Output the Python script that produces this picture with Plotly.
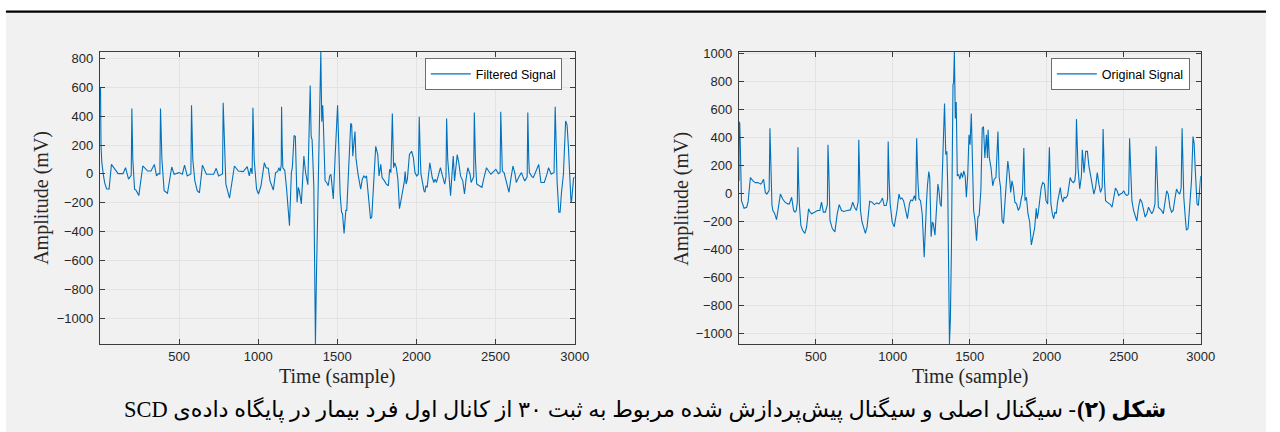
import plotly.graph_objects as go

# ---------------- data ----------------
filtered_t = [1, 4, 7, 12, 21, 30, 42, 58, 73, 95, 115, 146, 162, 181, 198, 202, 208, 219, 229, 246,
              271, 302, 323, 344, 358, 369, 379, 383, 392, 406, 427, 454, 469, 500, 521, 535, 552, 575, 579, 587,
              600, 615, 629, 648, 673, 719, 735, 750, 775, 779, 787, 796, 819, 850, 875, 906, 931, 944, 954, 962,
              967, 975, 990, 1002, 1018, 1039, 1050, 1064, 1075, 1096, 1110, 1123, 1131, 1139, 1146, 1148, 1152, 1156, 1168, 1179,
              1198, 1210, 1216, 1227, 1235, 1246, 1254, 1260, 1273, 1283, 1289, 1293, 1300, 1314, 1329, 1335, 1341, 1352, 1362, 1368,
              1381, 1389, 1396, 1402, 1408, 1412, 1423, 1433, 1443, 1452, 1460, 1468, 1475, 1487, 1493, 1502, 1506, 1512, 1518, 1527,
              1533, 1543, 1554, 1560, 1571, 1585, 1591, 1598, 1606, 1612, 1618, 1631, 1648, 1658, 1668, 1677, 1685, 1698, 1710, 1718,
              1731, 1743, 1756, 1764, 1775, 1783, 1798, 1810, 1823, 1831, 1839, 1848, 1856, 1864, 1873, 1883, 1893, 1902, 1912, 1923,
              1929, 1935, 1943, 1956, 1970, 1981, 1991, 2002, 2012, 2018, 2025, 2029, 2048, 2054, 2060, 2068, 2085, 2100, 2110, 2118,
              2127, 2137, 2152, 2162, 2179, 2187, 2191, 2198, 2206, 2216, 2227, 2233, 2241, 2252, 2258, 2268, 2279, 2293, 2304, 2314,
              2325, 2339, 2346, 2362, 2366, 2373, 2381, 2398, 2414, 2425, 2443, 2456, 2471, 2481, 2502, 2518, 2529, 2533, 2539, 2543,
              2554, 2570, 2585, 2595, 2610, 2623, 2631, 2648, 2664, 2679, 2685, 2700, 2704, 2710, 2714, 2731, 2739, 2756, 2773, 2787,
              2808, 2825, 2835, 2852, 2870, 2877, 2885, 2889, 2900, 2908, 2916, 2929, 2943, 2952, 2960, 2977, 2981, 2993, 3000]
filtered_v = [600, 590, 200, 80, 0, -60, -102, -105, 66, 30, 2, 2, 43, -36, -10, 452, 100, -105, -114, -150,
              55, 20, 20, 66, -14, 2, 0, 452, 100, -116, -134, 48, -2, 9, -2, 61, -14, 0, 475, 100,
              -48, -116, -130, 61, -2, -2, 39, -14, 0, 493, 150, -70, -168, 55, 20, 16, 50, -14, 40, 0,
              457, 100, -105, -139, -82, 77, 43, 39, -48, -111, 9, 16, 43, 20, 60, 464, 200, 43, 25, -93,
              -359, 9, 43, 266, 259, -195, -93, -116, -207, -2, 123, 77, 9, -75, 611, 259, 236, -93, -1178, -730,
              43, 616, 843, 361, 475, 350, -48, -59, -82, -14, -2, -93, -173, 134, 305, 475, 327, 43, -139, -264,
              -275, -411, -252, -252, -2, 350, 339, 123, 225, 293, 111, -2, -105, -36, -14, -25, -14, -173, -309, -298,
              -2, 191, 134, -14, 66, -25, -48, -70, -82, 32, 9, 418, 43, 77, 43, -36, -241, -184, -150, -59,
              16, -70, -36, 134, 157, 111, 9, -14, -2, 395, 100, -2, -116, -127, -82, -93, 77, -25, -59, -36,
              -59, -14, 43, -2, -70, -20, 384, 100, -40, -150, 30, 123, -48, 80, 134, 77, -14, -48, -139, -36,
              43, -2, -59, -20, 425, 100, -70, -82, -93, -36, 43, 20, -2, 9, 32, 2, 10, 430, 100, 20,
              9, -59, -127, -48, 55, 0, -59, -20, 9, -36, -48, -20, 425, 100, 9, -20, -25, 20, 66, -59,
              -59, -2, 43, -2, 10, 464, 150, -48, -264, -264, -139, -2, 366, 339, 200, -195, -184, -32, -20]

original_t = [1, 2, 6, 10, 17, 34, 51, 60, 75, 92, 107, 124, 142, 150, 161, 172, 182, 189, 197, 202,
              208, 215, 221, 232, 245, 257, 270, 285, 300, 318, 328, 343, 356, 365, 373, 380, 384, 388, 393, 403,
              414, 429, 440, 453, 463, 474, 489, 511, 526, 537, 549, 562, 575, 579, 586, 592, 607, 624, 639, 652,
              667, 682, 704, 725, 740, 751, 764, 775, 779, 785, 790, 800, 811, 822, 833, 850, 865, 880, 897, 910,
              923, 933, 944, 957, 966, 970, 976, 983, 996, 1009, 1027, 1040, 1049, 1059, 1070, 1083, 1095, 1108, 1117, 1129,
              1140, 1149, 1155, 1163, 1170, 1180, 1191, 1204, 1215, 1219, 1225, 1234, 1240, 1249, 1257, 1263, 1274, 1283, 1293, 1300,
              1308, 1315, 1325, 1336, 1344, 1351, 1357, 1368, 1374, 1381, 1391, 1395, 1400, 1406, 1412, 1419, 1427, 1436, 1444, 1453,
              1461, 1470, 1478, 1487, 1495, 1502, 1510, 1517, 1525, 1534, 1544, 1553, 1561, 1572, 1581, 1589, 1598, 1608, 1615, 1619,
              1627, 1638, 1649, 1659, 1670, 1683, 1691, 1700, 1710, 1719, 1730, 1747, 1755, 1766, 1774, 1783, 1793, 1804, 1815, 1825,
              1836, 1842, 1851, 1859, 1868, 1878, 1889, 1900, 1910, 1921, 1932, 1938, 1944, 1953, 1964, 1974, 1985, 1995, 2006, 2017,
              2027, 2036, 2045, 2053, 2062, 2070, 2079, 2088, 2096, 2105, 2113, 2124, 2135, 2145, 2152, 2161, 2173, 2182, 2188, 2193,
              2199, 2203, 2214, 2225, 2231, 2238, 2242, 2253, 2264, 2274, 2285, 2298, 2306, 2317, 2328, 2339, 2349, 2360, 2366, 2375,
              2382, 2392, 2403, 2414, 2424, 2435, 2446, 2457, 2467, 2478, 2489, 2500, 2510, 2521, 2532, 2538, 2547, 2553, 2564, 2575,
              2585, 2596, 2607, 2618, 2628, 2639, 2650, 2661, 2671, 2682, 2693, 2703, 2710, 2718, 2725, 2736, 2746, 2757, 2768, 2779,
              2789, 2800, 2811, 2821, 2832, 2843, 2854, 2864, 2873, 2879, 2886, 2890, 2901, 2907, 2918, 2929, 2940, 2950, 2957, 2965,
              2976, 2985, 2993, 3000]
original_v = [89, 512, 500, 324, -52, -106, -99, -63, 113, 89, 77, 77, 66, 77, 101, 7, -5, 7, 20, 465,
              100, -80, -122, -141, -188, -99, -5, -40, -63, -75, -75, -28, -122, -134, -122, -60, 329, 100, -75, -228,
              -263, -286, -240, -110, -134, -146, -134, -122, -122, -63, -134, -134, -80, 347, 100, -192, -251, -275, -146, -80,
              -122, -129, -122, -118, -63, -99, -122, -60, 383, 100, -122, -204, -251, -286, -239, -56, -63, -80, -68, -75,
              -56, -33, -87, -87, -40, 371, 100, -75, -204, -239, -122, -5, -40, -33, -52, -122, -181, -75, -47, -52,
              -16, -52, 394, 89, -40, -52, -145, -455, -99, -63, 54, 155, 113, -310, -204, -216, -298, -75, 66, 19,
              -75, -94, 230, 641, 277, 300, 42, -1077, -900, -380, 775, 790, 1009, 535, 652, 124, 136, 101, 148, 113,
              160, 124, -28, 136, 418, 347, 570, 206, -122, -192, -338, -169, -157, 19, 465, 476, 253, 418, 253, 455,
              253, 183, 54, 101, 113, 441, 113, 42, -192, -216, -5, 230, 160, 7, 89, 42, -63, -75, -122, -99,
              -28, -5, 324, -52, -28, -145, -204, -368, -310, -251, -106, -181, -145, -52, 42, 77, 66, -52, -75, 330,
              -75, -145, -181, -134, -145, -63, -5, 42, -28, -63, -28, -33, -16, 66, 113, 89, 77, 89, 150, 530,
              300, 183, 31, 124, 312, 200, 148, 300, 300, 195, 124, 66, -5, 42, 148, 66, 7, 42, 460, 89,
              -52, -63, -75, -80, -99, -28, 38, 19, -16, -5, 0, 19, -5, -16, -5, 394, 42, -52, -122, -157,
              -197, -99, -40, -63, -122, -169, -145, -99, -122, -145, -122, -75, 336, -5, -99, -110, -122, -145, -75, 19,
              -5, -99, -134, -122, -40, 31, 7, -5, 40, 465, 150, -28, -192, -263, -251, -75, 89, 406, 359, 160,
              -75, -87, 19, 124]

x_ticks = [500, 1000, 1500, 2000, 2500, 3000]
left_y_ticks = [-1000, -800, -600, -400, -200, 0, 200, 400, 600, 800]
right_y_ticks = [-1000, -800, -600, -400, -200, 0, 200, 400, 600, 800, 1000]
left_y_range = [-1178, 843]
right_y_range = [-1077, 1009]
x_range = [0, 3000]

x_title = "Time (sample)"
y_title = "Amplitude (mV)"
caption_bold = "شکل (۲)"
caption_rest = "- سیگنال اصلی و سیگنال پیش‌پردازش شده مربوط به ثبت ۳۰ از کانال اول فرد بیمار در پایگاه داده‌ی SCD"

# ---------------- layout helpers (pixel -> paper) ----------------
W, H = 1280, 432
def px(x):
    return x / W
def py(y):
    return 1 - y / H

LINE = "#0072BD"
AX = "#3c3c3c"
GRID = "#e3e3e3"
TICKFONT = dict(family="Liberation Sans, Arial, sans-serif", size=13, color="#262626")
SERIF = "Liberation Serif, Times New Roman, serif"
CAPFONT = "Liberation Serif, DejaVu Sans, serif"
RLE, PDF, RLM = "\u202B", "\u202C", "\u200F"

fig = go.Figure()
fig.add_trace(go.Scatter(x=filtered_t, y=filtered_v, mode="lines", name="Filtered Signal",
                         line=dict(color=LINE, width=1.1), xaxis="x", yaxis="y", legend="legend"))
fig.add_trace(go.Scatter(x=original_t, y=original_v, mode="lines", name="Original Signal",
                         line=dict(color=LINE, width=1.1), xaxis="x2", yaxis="y2", legend="legend2"))

top, bottom = 46.7, 343
def xax(l, r):
    return dict(domain=[px(l), px(r)], range=x_range, tickvals=x_ticks, showgrid=True, gridcolor=GRID,
                zeroline=False, showline=True, linecolor=AX, linewidth=1, mirror="ticks",
                ticks="inside", ticklen=5, tickcolor=AX, tickfont=TICKFONT)
def yax(rng, ticks, anchor):
    return dict(domain=[py(bottom), py(top)], range=rng, tickvals=ticks, showgrid=True, gridcolor=GRID,
                zeroline=False, showline=True, linecolor=AX, linewidth=1, mirror="ticks",
                ticks="inside", ticklen=5, tickcolor=AX, tickfont=TICKFONT, anchor=anchor,
                ticklabelstandoff=3)

legend_common = dict(bgcolor="white", bordercolor="#6e6e6e", borderwidth=1,
                     font=dict(family="Liberation Sans, Arial, sans-serif", size=12.5, color="#000"),
                     xanchor="right", yanchor="top", itemwidth=40, tracegroupgap=0)

join_x = 1087
cap_y = 409
fig.update_layout(
    autosize=True, margin=dict(l=0, r=0, t=0, b=0),
    paper_bgcolor="white", plot_bgcolor="white", showlegend=True,
    xaxis=dict(**xax(101, 581), anchor="y"),
    yaxis=yax(left_y_range, left_y_ticks, "x"),
    xaxis2=dict(**xax(747, 1214), anchor="y2"),
    yaxis2=yax(right_y_range, right_y_ticks, "x2"),
    legend=dict(x=px(568), y=py(53), **legend_common),
    legend2=dict(x=px(1203), y=py(53), **legend_common),
    shapes=[
        dict(type="rect", xref="paper", yref="paper", x0=px(6), x1=1, y0=0, y1=py(7),
             fillcolor="#f1f1f1", line=dict(width=0), layer="below"),
        dict(type="line", xref="paper", yref="paper", x0=px(6), x1=1, y0=py(5.7), y1=py(5.7),
             line=dict(color="black", width=2.2)),
    ],
    annotations=[
        dict(text=y_title, xref="paper", yref="paper", x=px(42), y=py(195), textangle=-90,
             showarrow=False, font=dict(family=SERIF, size=20, color="#262626"), xanchor="center", yanchor="middle"),
        dict(text=x_title, xref="paper", yref="paper", x=px(341), y=py(376),
             showarrow=False, font=dict(family=SERIF, size=20, color="#262626"), xanchor="center", yanchor="middle"),
        dict(text=y_title, xref="paper", yref="paper", x=px(689), y=py(195), textangle=-90,
             showarrow=False, font=dict(family=SERIF, size=20, color="#262626"), xanchor="center", yanchor="middle"),
        dict(text=x_title, xref="paper", yref="paper", x=px(981), y=py(376),
             showarrow=False, font=dict(family=SERIF, size=20, color="#262626"), xanchor="center", yanchor="middle"),
        dict(text="<b>" + RLM + caption_bold + RLM + "</b>", xref="paper", yref="paper", x=px(join_x), y=py(cap_y),
             showarrow=False, font=dict(family=CAPFONT, size=22.4, color="black"),
             xanchor="left", yanchor="middle"),
        dict(text=RLE + RLM + caption_rest + PDF, xref="paper", yref="paper", x=px(join_x + 3), y=py(cap_y),
             showarrow=False, font=dict(family=CAPFONT, size=22.4, color="black"),
             xanchor="right", yanchor="middle"),
    ],
)

post = ("document.documentElement.style.margin='0';document.documentElement.style.overflow='hidden';"
        "document.body.style.margin='0';document.body.style.overflow='hidden';"
        "var d=document.getElementById('{plot_id}');d.style.position='fixed';d.style.left='0px';d.style.top='0px';"
        "d.style.width='100vw';d.style.height='100vh';"
        "Plotly.relayout(d,{width:window.innerWidth,height:window.innerHeight});")
fig.write_html("out.html", config={"displayModeBar": False, "responsive": True}, post_script=post,
               default_width="1280px", default_height="432px")
